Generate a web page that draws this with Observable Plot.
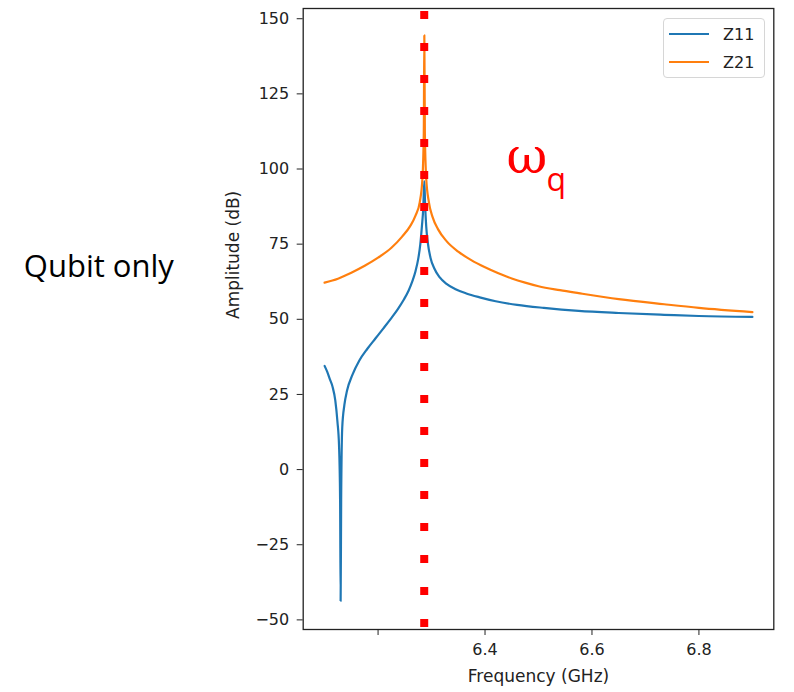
<!DOCTYPE html>
<html>
<head>
<meta charset="utf-8">
<script src="https://cdn.jsdelivr.net/npm/d3@7"></script>
<script src="https://cdn.jsdelivr.net/npm/@observablehq/plot@0.6"></script>
<style>
  html, body { margin: 0; padding: 0; background: #fff; }
  #wrap { position: relative; width: 794px; height: 692px; }
  #legend {
    position: absolute; left: 663px; top: 18px; width: 102px; height: 60px;
    border: 1px solid #d6d6d6; border-radius: 4px; background: rgba(255,255,255,0.8);
    box-sizing: border-box; font-family: "DejaVu Sans", sans-serif; font-size: 16px; color: #222;
  }
  .entry { position: absolute; left: 0; height: 20px; display: flex; align-items: center; }
  .entry svg { margin-left: 5px; margin-right: 14px; }
</style>
</head>
<body>
<div id="wrap"><div id="legend"></div></div>
<script>
// ---- data ----
const seriesNames = ["Z11", "Z21"];
const seriesColors = ["#1f77b4", "#ff7f0e"];

const z11Freq = [6.100, 6.105, 6.110, 6.115, 6.120, 6.124, 6.127, 6.129, 6.130, 6.131, 6.133, 6.137, 6.142, 6.152, 6.165, 6.180, 6.195, 6.210, 6.223, 6.237, 6.248, 6.257, 6.264, 6.270, 6.275, 6.279, 6.282, 6.2845, 6.2865, 6.288, 6.290, 6.293, 6.298, 6.305, 6.315, 6.328, 6.345, 6.365, 6.390, 6.420, 6.460, 6.510, 6.575, 6.650, 6.735, 6.800, 6.900];
const z11Amp  = [34.5, 32.5, 30.0, 27.5, 23.0, 16.0, 8.0, -10.0, -43.7, -10.0, 14.0, 21.5, 26.3, 31.5, 36.3, 40.2, 43.6, 47.0, 50.0, 53.4, 56.5, 59.5, 62.6, 66.0, 70.0, 75.0, 81.0, 87.0, 96.0, 88.0, 81.0, 75.5, 70.5, 67.0, 64.0, 61.8, 60.0, 58.6, 57.3, 56.0, 54.8, 53.8, 52.8, 52.1, 51.5, 51.1, 50.8];

const z21Freq = [6.100, 6.125, 6.150, 6.175, 6.200, 6.225, 6.245, 6.260, 6.270, 6.278, 6.283, 6.2855, 6.2865, 6.2875, 6.290, 6.295, 6.302, 6.312, 6.328, 6.350, 6.375, 6.400, 6.425, 6.450, 6.475, 6.500, 6.540, 6.575, 6.650, 6.735, 6.800, 6.900];
const z21Amp  = [62.2, 63.5, 65.5, 67.8, 70.5, 73.8, 77.5, 81.0, 84.5, 89.0, 97.0, 112.0, 144.5, 112.0, 97.0, 89.0, 84.0, 80.0, 76.0, 72.5, 69.6, 67.3, 65.3, 63.6, 62.2, 61.0, 59.7, 58.7, 56.7, 55.0, 53.8, 52.4];

const qubitFreq = [6.2863];            // red dotted marker position (GHz)
const markerSpan = [152.4, -52.5];     // dB extent of the dotted marker

const xTicks = [6.2, 6.4, 6.6, 6.8];
const xTickLabels = ["", "6.4", "6.6", "6.8"];
const yTicks = [-50, -25, 0, 25, 50, 75, 100, 125, 150];

const xLabel = ["Frequency (GHz)"];
const yLabel = ["Amplitude (dB)"];
const sideLabel = ["Qubit only"];
const omegaLabel = ["ω"];
const omegaSub = ["q"];

// ---- build tables ----
const z11 = z11Freq.map((f, i) => ({f, a: z11Amp[i]}));
const z21 = z21Freq.map((f, i) => ({f, a: z21Amp[i]}));

const chart = Plot.plot({
  width: 794,
  height: 692,
  marginLeft: 302.7,
  marginRight: 20.7,
  marginTop: 8,
  marginBottom: 63,
  style: {fontFamily: "DejaVu Sans, sans-serif", fontSize: "16px", color: "#222", background: "transparent"},
  x: {domain: [6.06, 6.94]},
  y: {domain: [-53.2, 153.4]},
  marks: [
    Plot.frame({stroke: "#222", strokeWidth: 1.3}),
    Plot.axisX({ticks: xTicks, tickFormat: (d, i) => xTickLabels[i], tickSize: 6, tickPadding: 8, label: null, fontSize: 16}),
    Plot.axisY({ticks: yTicks, tickSize: 6, tickPadding: 8, label: null, fontSize: 16}),
    Plot.line(z11, {x: "f", y: "a", stroke: seriesColors[0], strokeWidth: 2.2, curve: "monotone-x"}),
    Plot.line(z21, {x: "f", y: "a", stroke: seriesColors[1], strokeWidth: 2.2, curve: "monotone-x"}),
    Plot.ruleX(qubitFreq, {x: d => d, y1: markerSpan[0], y2: markerSpan[1], stroke: "#ff0000", strokeWidth: 8, strokeDasharray: "8,24"}),
    Plot.text(xLabel, {text: d => d, frameAnchor: "bottom", dy: 47, lineAnchor: "middle", fontSize: 17, fill: "#222"}),
    Plot.text(yLabel, {text: d => d, frameAnchor: "left", dx: -70, rotate: -90, lineAnchor: "middle", fontSize: 17, fill: "#222"}),
    Plot.text(sideLabel, {text: d => d, frameAnchor: "top-left", dx: -279.4, dy: 268.7, textAnchor: "start", lineAnchor: "bottom", fontFamily: "Open Sans", fontSize: 31, fill: "#000"}),
    Plot.text(omegaLabel, {text: d => d, frameAnchor: "top-left", dx: 223.8, dy: 164.7, textAnchor: "middle", lineAnchor: "bottom", fontFamily: "DejaVu Serif", fontSize: 50, fill: "#ff0000"}),
    Plot.text(omegaSub, {text: d => d, frameAnchor: "top-left", dx: 243.3, dy: 182, textAnchor: "start", lineAnchor: "bottom", fontFamily: "Open Sans", fontSize: 32, fill: "#ff0000"})
  ]
});
document.getElementById("wrap").prepend(chart);

// legend
const legend = document.getElementById("legend");
seriesNames.forEach((name, i) => {
  const e = document.createElement("div");
  e.className = "entry";
  e.style.top = (5 + i * 28) + "px";
  e.innerHTML = `<svg width="40" height="4"><line x1="0" x2="40" y1="2" y2="2" stroke="${seriesColors[i]}" stroke-width="2"/></svg><span>${name}</span>`;
  legend.appendChild(e);
});
</script>
</body>
</html>
